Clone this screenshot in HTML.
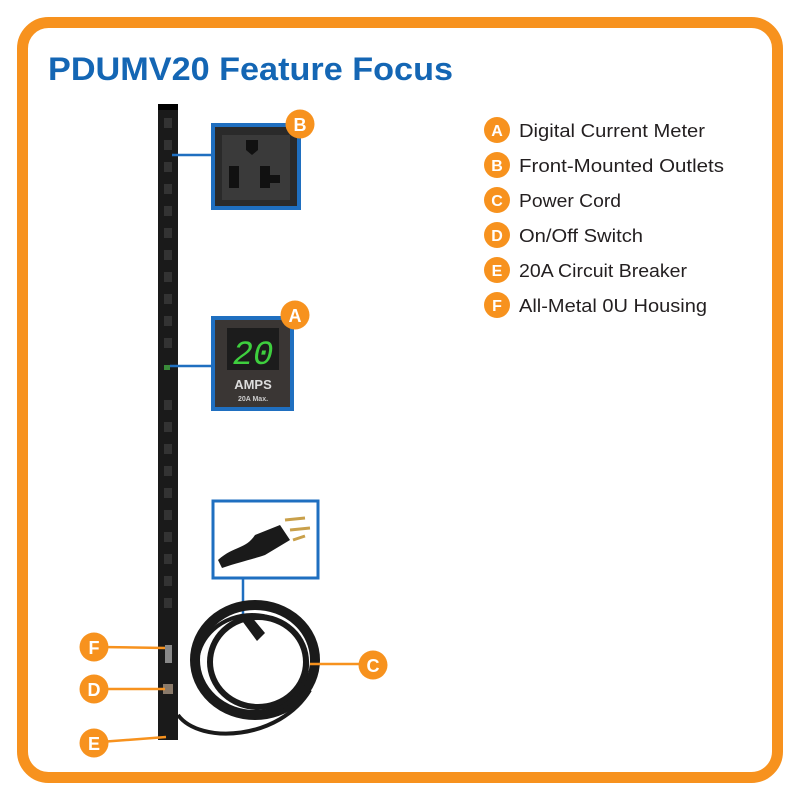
<!DOCTYPE html>
<html><head><meta charset="utf-8"><style>html,body{margin:0;padding:0;background:#fff}svg{display:block}</style></head>
<body>
<svg width="800" height="800" viewBox="0 0 800 800" xmlns="http://www.w3.org/2000/svg" font-family="'Liberation Sans',sans-serif">
<rect x="0" y="0" width="800" height="800" fill="#fff"/>
<rect x="22.5" y="22.5" width="755" height="755" rx="26" fill="none" stroke="#f7921e" stroke-width="11"/>
<text x="48" y="80" font-size="32" font-weight="bold" fill="#1466b4" textLength="405" lengthAdjust="spacingAndGlyphs">PDUMV20 Feature Focus</text>

<!-- PDU strip -->
<rect x="158" y="104" width="20" height="636" fill="#1a1a1a"/>
<rect x="158" y="104" width="20" height="6" fill="#000"/>
<g fill="#333">
<rect x="164" y="118" width="8" height="10"/><rect x="164" y="140" width="8" height="10"/><rect x="164" y="162" width="8" height="10"/><rect x="164" y="184" width="8" height="10"/><rect x="164" y="206" width="8" height="10"/><rect x="164" y="228" width="8" height="10"/><rect x="164" y="250" width="8" height="10"/><rect x="164" y="272" width="8" height="10"/><rect x="164" y="294" width="8" height="10"/><rect x="164" y="316" width="8" height="10"/><rect x="164" y="338" width="8" height="10"/>
<rect x="164" y="400" width="8" height="10"/><rect x="164" y="422" width="8" height="10"/><rect x="164" y="444" width="8" height="10"/><rect x="164" y="466" width="8" height="10"/><rect x="164" y="488" width="8" height="10"/><rect x="164" y="510" width="8" height="10"/><rect x="164" y="532" width="8" height="10"/><rect x="164" y="554" width="8" height="10"/><rect x="164" y="576" width="8" height="10"/><rect x="164" y="598" width="8" height="10"/>
</g>
<rect x="164" y="365" width="6" height="5" fill="#3a8a3a"/>
<rect x="165" y="645" width="7" height="18" fill="#888"/>
<rect x="163" y="684" width="10" height="10" fill="#8a7a6a"/>

<!-- B box -->
<line x1="172" y1="155" x2="212" y2="155" stroke="#1f6fc0" stroke-width="2.5"/>
<rect x="211" y="123" width="90" height="87" fill="#1f6fc0"/>
<rect x="215" y="127" width="82" height="79" fill="#2a2a2a"/>
<rect x="222" y="135" width="68" height="65" fill="#3a3a3a"/>
<path d="M246 140 h12 v10 l-6 5 l-6 -5z" fill="#111"/>
<rect x="229" y="166" width="10" height="22" fill="#111"/>
<rect x="260" y="166" width="10" height="22" fill="#111"/>
<rect x="270" y="175" width="10" height="8" fill="#111"/>

<!-- A box -->
<line x1="170" y1="366" x2="212" y2="366" stroke="#1f6fc0" stroke-width="2.5"/>
<rect x="211" y="316" width="83" height="95" fill="#1f6fc0"/>
<rect x="215" y="320" width="75" height="87" fill="#3a3634"/>
<rect x="227" y="328" width="52" height="42" fill="#1c1c1c"/>
<text x="253" y="364" font-size="34" fill="#3ecf3e" text-anchor="middle" font-style="italic" font-family="'Liberation Mono',monospace">20</text>
<text x="253" y="389" font-size="13" font-weight="bold" fill="#ddd" text-anchor="middle">AMPS</text>
<text x="253" y="401" font-size="7" font-weight="bold" fill="#ccc" text-anchor="middle">20A Max.</text>

<!-- plug box -->
<rect x="213" y="501" width="105" height="77" fill="#fff" stroke="#1f6fc0" stroke-width="3"/>
<path d="M218 560 C235 545 245 550 255 535 L280 525 L290 540 L265 555 C250 560 240 562 222 568z" fill="#1a1a1a"/>
<g stroke="#c9a04a" stroke-width="3"><line x1="285" y1="520" x2="305" y2="518"/><line x1="290" y1="530" x2="310" y2="528"/><line x1="293" y1="540" x2="305" y2="536"/></g>
<line x1="243" y1="578" x2="243" y2="620" stroke="#1f6fc0" stroke-width="2.5"/>

<!-- coil -->
<g fill="none" stroke="#1a1a1a">
<ellipse cx="255" cy="660" rx="60" ry="55" stroke-width="10"/>
<ellipse cx="258" cy="662" rx="48" ry="45" stroke-width="6"/>
<ellipse cx="252" cy="665" rx="55" ry="50" stroke-width="4"/>
<path d="M178 715 C200 745 280 740 310 690" stroke-width="4"/>
</g>
<path d="M240 618 l10 -3 l15 18 l-8 8z" fill="#1a1a1a"/>

<!-- orange leader lines -->
<g stroke="#f7921e" stroke-width="2.5">
<line x1="100" y1="647" x2="165" y2="648"/>
<line x1="100" y1="689" x2="165" y2="689"/>
<line x1="100" y1="742" x2="166" y2="737"/>
<line x1="310" y1="664" x2="365" y2="664"/>
</g>

<!-- badges -->
<g font-weight="bold" font-size="18" fill="#fff" text-anchor="middle">
<circle cx="300" cy="124" r="14.5" fill="#f7921e"/><text x="300" y="131">B</text>
<circle cx="295" cy="315" r="14.5" fill="#f7921e"/><text x="295" y="322">A</text>
<circle cx="373" cy="665" r="14.5" fill="#f7921e"/><text x="373" y="672">C</text>
<circle cx="94" cy="647" r="14.5" fill="#f7921e"/><text x="94" y="654">F</text>
<circle cx="94" cy="689" r="14.5" fill="#f7921e"/><text x="94" y="696">D</text>
<circle cx="94" cy="743" r="14.5" fill="#f7921e"/><text x="94" y="750">E</text>
</g>

<!-- legend -->
<g font-weight="bold" font-size="16" fill="#fff" text-anchor="middle">
<circle cx="497" cy="130" r="13" fill="#f7921e"/><text x="497" y="136">A</text>
<circle cx="497" cy="165" r="13" fill="#f7921e"/><text x="497" y="171">B</text>
<circle cx="497" cy="200" r="13" fill="#f7921e"/><text x="497" y="206">C</text>
<circle cx="497" cy="235" r="13" fill="#f7921e"/><text x="497" y="241">D</text>
<circle cx="497" cy="270" r="13" fill="#f7921e"/><text x="497" y="276">E</text>
<circle cx="497" cy="305" r="13" fill="#f7921e"/><text x="497" y="311">F</text>
</g>
<g font-size="18" fill="#231f20">
<text x="519" y="137" textLength="186" lengthAdjust="spacingAndGlyphs">Digital Current Meter</text>
<text x="519" y="172" textLength="205" lengthAdjust="spacingAndGlyphs">Front-Mounted Outlets</text>
<text x="519" y="207" textLength="102" lengthAdjust="spacingAndGlyphs">Power Cord</text>
<text x="519" y="242" textLength="124" lengthAdjust="spacingAndGlyphs">On/Off Switch</text>
<text x="519" y="277" textLength="168" lengthAdjust="spacingAndGlyphs">20A Circuit Breaker</text>
<text x="519" y="312" textLength="188" lengthAdjust="spacingAndGlyphs">All-Metal 0U Housing</text>
</g>
</svg>
</body></html>
